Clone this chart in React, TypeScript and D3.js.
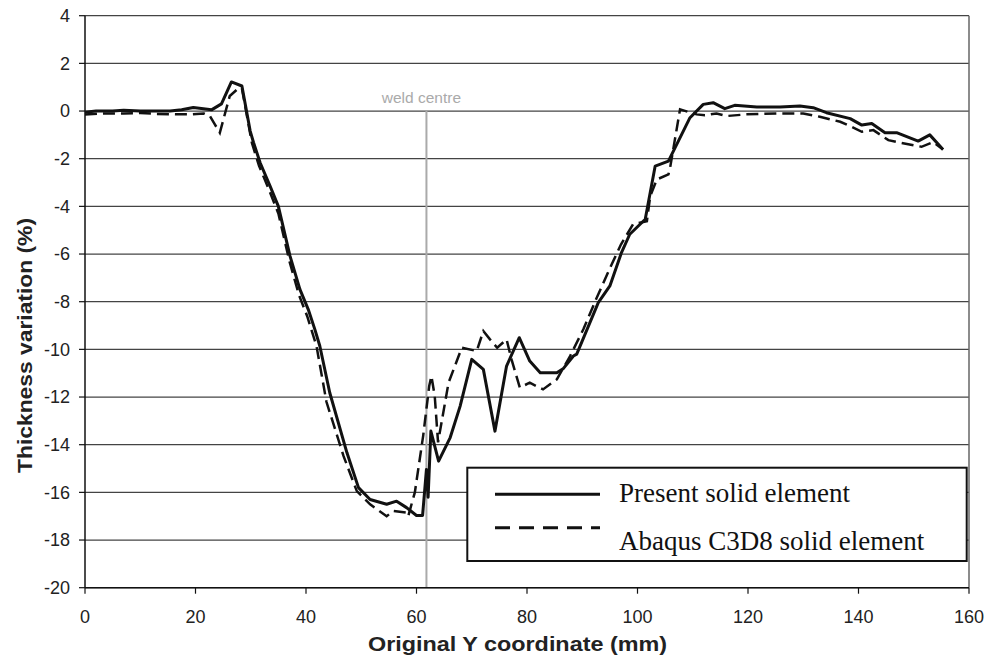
import React from "react";
import * as d3 from "d3";

const presentX = [0, 2, 5, 7, 10, 13, 15.4, 17.5, 19.6, 22.9, 24.7, 26.5, 28.4, 29.9, 30.5, 31.7, 33.5, 35, 37.1, 38.9, 40.4, 41.6, 42.5, 44.3, 47.4, 49.5, 51.6, 54.6, 56.4, 58.2, 60, 61.1, 61.8, 62.1, 62.6, 64, 66.1, 67.9, 70, 72.1, 74.2, 76.3, 78.6, 80.5, 82.4, 85.4, 86.6, 88.4, 89, 92.9, 95, 97.1, 98.6, 101.4, 103.2, 105.6, 109.5, 111.9, 113.7, 115.8, 117.6, 121.6, 125.8, 129.4, 131.8, 134.2, 138.5, 140.6, 142.4, 144.8, 146.9, 150.8, 152.9, 155.3];
const presentV = [-0.05, 0.0, 0.0, 0.03, 0.0, 0.0, 0.0, 0.05, 0.15, 0.05, 0.3, 1.22, 1.05, -0.84, -1.32, -2.17, -3.15, -4.0, -6.08, -7.48, -8.32, -9.16, -9.86, -11.82, -14.33, -15.8, -16.3, -16.5, -16.37, -16.64, -16.97, -16.97, -15.04, -16.2, -13.43, -14.69, -13.7, -12.38, -10.42, -10.84, -13.43, -10.7, -9.51, -10.49, -10.98, -10.98, -10.8, -10.28, -10.2, -8.04, -7.34, -5.94, -5.17, -4.54, -2.31, -2.1, -0.28, 0.28, 0.35, 0.1, 0.24, 0.17, 0.17, 0.21, 0.14, -0.07, -0.32, -0.59, -0.52, -0.91, -0.91, -1.26, -1.0, -1.61];

const abaqusX = [0, 3, 7, 10, 13, 17, 19, 21.5, 22.6, 23.5, 24.4, 26.2, 27.7, 28.4, 30.2, 31.5, 33.3, 35, 37, 38.7, 40.2, 41.9, 43.7, 46.8, 49.2, 51.6, 54.6, 55.8, 58.2, 58.5, 59.7, 61.2, 62.3, 62.7, 63.3, 63.9, 65.8, 68.2, 70.9, 72.1, 73.3, 74.6, 76.3, 77.2, 78.7, 80.5, 82.9, 85.4, 87.8, 90.2, 92.5, 95, 97, 99.2, 101.7, 102.3, 103.5, 105.6, 105.9, 107.7, 110.7, 112.2, 114.3, 116.1, 119.7, 125.8, 130, 133, 136.7, 138.5, 140.6, 142.7, 145.4, 147.5, 151.4, 153.5, 155.3];
const abaqusV = [-0.15, -0.1, -0.1, -0.08, -0.12, -0.14, -0.14, -0.1, -0.21, -0.56, -0.91, 0.63, 0.94, 0.95, -1.33, -2.3, -3.3, -4.3, -6.3, -7.7, -8.6, -9.86, -12.2, -14.48, -15.95, -16.5, -17.0, -16.78, -16.85, -17.0, -16.0, -13.64, -11.54, -11.12, -11.96, -13.9, -11.4, -9.93, -10.07, -9.23, -9.58, -9.93, -9.58, -10.42, -11.6, -11.4, -11.68, -11.26, -10.28, -9.16, -7.9, -6.6, -5.6, -4.75, -4.62, -3.57, -2.87, -2.66, -2.38, 0.07, -0.14, -0.18, -0.1, -0.21, -0.14, -0.1, -0.1, -0.24, -0.45, -0.63, -0.87, -0.8, -1.22, -1.33, -1.5, -1.3, -1.61];

const xTicks = [0, 20, 40, 60, 80, 100, 120, 140, 160];
const yTicks = [4, 2, 0, -2, -4, -6, -8, -10, -12, -14, -16, -18, -20];
const weldCentre = 61.8;
const seriesNames = ["Present solid element", "Abaqus C3D8 solid element"];

export default function App() {
  const left = 85, right = 969, top = 15.7, bottom = 587.7;
  const x = d3.scaleLinear().domain([0, 160]).range([left, right]);
  const y = d3.scaleLinear().domain([-20, 4]).range([bottom, top]);
  const line = d3.line<[number, number]>().x((d) => x(d[0])).y((d) => y(d[1]));
  const present = presentX.map((v, i) => [v, presentV[i]] as [number, number]);
  const abaqus = abaqusX.map((v, i) => [v, abaqusV[i]] as [number, number]);
  const sans = "'Liberation Sans', Arial, sans-serif";
  const serif = "'Liberation Serif', 'Times New Roman', serif";

  return (
    <div style={{ position: "absolute", left: 0, top: 0 }}>
      <svg width={1000} height={655} style={{ display: "block", background: "#fff" }}>
        {/* gridlines */}
        {yTicks.map((t) => (
          <line key={"g" + t} x1={left} x2={right} y1={y(t)} y2={y(t)} stroke="#444" strokeWidth={1.2} />
        ))}
        {/* right border */}
        <line x1={right} x2={right} y1={top} y2={bottom} stroke="#666" strokeWidth={1.5} />
        {/* weld centre */}
        <line x1={x(weldCentre)} x2={x(weldCentre)} y1={y(0)} y2={bottom} stroke="#aaa" strokeWidth={2} />
        <text x={x(weldCentre) - 5} y={y(0) - 8} textAnchor="middle" fontFamily={sans} fontSize={15.5} fill="#aaa">weld centre</text>
        {/* axes */}
        <line x1={left} x2={left} y1={top} y2={bottom} stroke="#111" strokeWidth={1.5} />
        <line x1={left} x2={right} y1={bottom} y2={bottom} stroke="#111" strokeWidth={1.5} />
        {yTicks.map((t) => (
          <g key={"y" + t}>
            <line x1={left - 6} x2={left} y1={y(t)} y2={y(t)} stroke="#111" strokeWidth={1.2} />
            <text x={70} y={y(t)} dy="0.35em" textAnchor="end" fontFamily={sans} fontSize={18} fill="#222">{t}</text>
          </g>
        ))}
        {xTicks.map((t) => (
          <g key={"x" + t}>
            <line x1={x(t)} x2={x(t)} y1={bottom} y2={bottom + 6} stroke="#111" strokeWidth={1.2} />
            <text x={x(t)} y={617} dy="0.35em" textAnchor="middle" fontFamily={sans} fontSize={18} fill="#222">{t}</text>
          </g>
        ))}
        {/* series */}
        <path d={line(abaqus) || ""} fill="none" stroke="#111" strokeWidth={2.5} strokeDasharray="12,6" />
        <path d={line(present) || ""} fill="none" stroke="#111" strokeWidth={3} strokeLinejoin="round" />
        {/* axis titles */}
        <text x={517.5} y={651} textAnchor="middle" fontFamily={sans} fontWeight="bold" fontSize={21} fill="#222" textLength={299} lengthAdjust="spacingAndGlyphs">Original Y coordinate (mm)</text>
        <text transform={`translate(32,345.5) rotate(-90)`} textAnchor="middle" fontFamily={sans} fontWeight="bold" fontSize={21} fill="#222" textLength={255} lengthAdjust="spacingAndGlyphs">Thickness variation (%)</text>
        {/* legend */}
        <rect x={467.3} y={467.7} width={499.4} height={93.3} fill="#fff" stroke="#111" strokeWidth={2} />
        <line x1={495} x2={600} y1={494.3} y2={494.3} stroke="#111" strokeWidth={3} />
        <line x1={495} x2={600} y1={527.7} y2={527.7} stroke="#111" strokeWidth={3} strokeDasharray="15,9" />
        <text x={619} y={501.7} fontFamily={serif} fontSize={27} fill="#111">{seriesNames[0]}</text>
        <text x={619} y={550} fontFamily={serif} fontSize={27} fill="#111">{seriesNames[1]}</text>
      </svg>
    </div>
  );
}
